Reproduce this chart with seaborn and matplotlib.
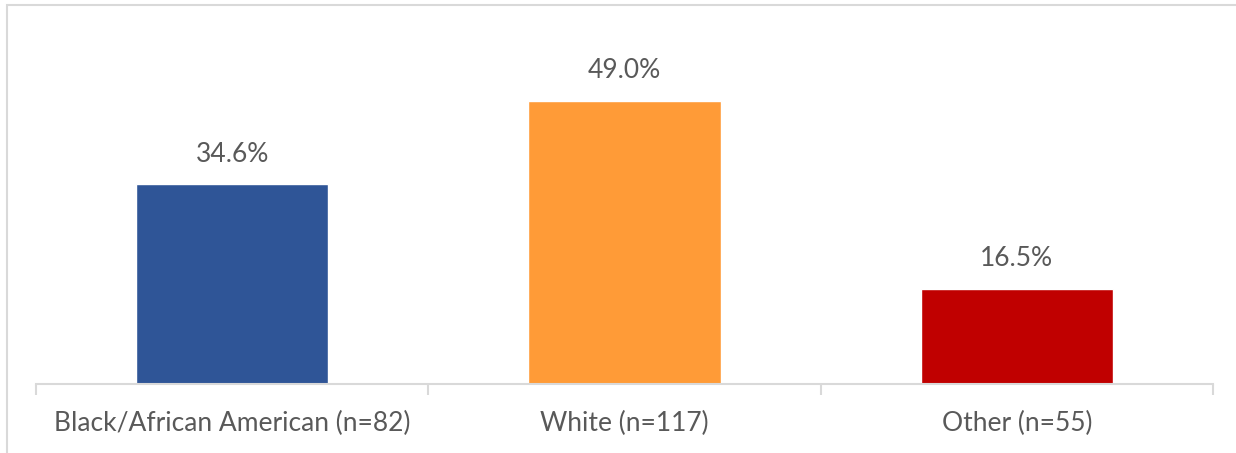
import matplotlib
matplotlib.use("Agg")
import matplotlib.pyplot as plt
from matplotlib.patches import Rectangle
import seaborn as sns
import pandas as pd

categories = ["Black/African American (n=82)", "White (n=117)", "Other (n=55)"]
shares = [34.6, 49.0, 16.5]
colors = ["#2F5597", "#FF9B37", "#C00000"]

df = pd.DataFrame({"group": categories, "share": shares})

sns.set_theme(style="white")
plt.rcParams["font.family"] = ["Lato", "DejaVu Sans"]

W, H = 1236, 453
fig = plt.figure(figsize=(W / 100, H / 100), dpi=100)
ax = fig.add_axes([36 / W, (H - 384) / H, (1213 - 36) / W, (384 - 40) / H])

sns.barplot(data=df, x="group", y="share", hue="group", palette=colors,
            width=0.49, legend=False, ax=ax, saturation=1)

ax.set_ylim(0, 59.5)
ax.set_xlim(-0.5, 2.5)
ax.set_xlabel("")
ax.set_ylabel("")
ax.set_yticks([])

text_color = "#595959"
for i, v in enumerate(shares):
    ax.annotate(f"{v:.1f}%", (i, v), xytext=(0, 12.5), textcoords="offset points",
                ha="center", va="bottom", fontsize=19, color=text_color)

ax.tick_params(axis="x", which="major", bottom=False, length=0, pad=19.5,
               labelsize=19, labelcolor=text_color)
ax.set_xticks([-0.5, 0.5, 1.5, 2.5], minor=True)
ax.tick_params(axis="x", which="minor", bottom=True, length=8, width=1.5,
               color="#D9D9D9", direction="out")

for s in ["top", "left", "right"]:
    ax.spines[s].set_visible(False)
ax.spines["bottom"].set_color("#D9D9D9")
ax.spines["bottom"].set_linewidth(1.5)

# outer chart frame, open at right and bottom
fig.patches.append(Rectangle((6.5 / W, -0.1), 1.2, (H - 5.5) / H + 0.1,
                             transform=fig.transFigure, fill=False,
                             edgecolor="#D9D9D9", linewidth=1.5))

fig.savefig("out.png", dpi=100)
